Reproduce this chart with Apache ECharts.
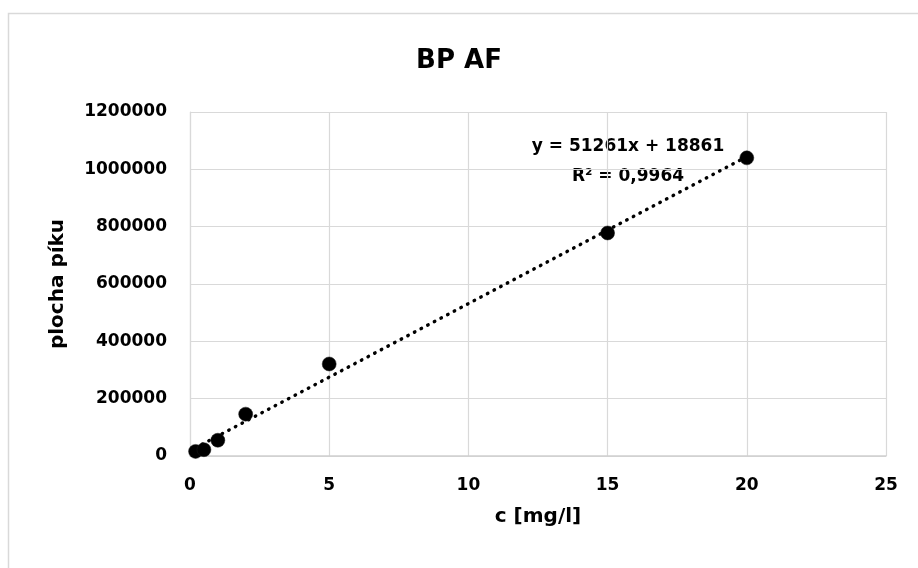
<!DOCTYPE html>
<html>
<head>
<meta charset="utf-8">
<script src="https://cdn.jsdelivr.net/npm/echarts@6/dist/echarts.min.js"></script>
<style>
  html, body { margin: 0; padding: 0; background: #fff; }
  #chart { width: 918px; height: 568px; }
</style>
</head>
<body>
<div id="chart"></div>
<script>
// Calibration measurements: concentration vs. peak area
const concentration = [0.2, 0.5, 1, 2, 5, 15, 20];
const peakArea = [16000, 22000, 55000, 146000, 321000, 778000, 1040000];

// Linear trendline as reported
const slope = 51261;
const intercept = 18861;
const rSquared = '0,9964';

const xTicks = [0, 5, 10, 15, 20, 25];
const yTicks = [0, 200000, 400000, 600000, 800000, 1000000, 1200000];

const FONT = 'DejaVu Sans';

const points = concentration.map((c, i) => [c, peakArea[i]]);
const xStart = concentration[0];
const xEnd = concentration[concentration.length - 1];
const trend = [
  [xStart, slope * xStart + intercept],
  [xEnd, slope * xEnd + intercept]
];

const chart = echarts.init(document.getElementById('chart'), null, { renderer: 'canvas' });

chart.setOption({
  backgroundColor: '#ffffff',
  animation: false,
  title: {
    text: 'BP AF',
    left: 'center',
    top: 43,
    textStyle: { fontFamily: FONT, fontWeight: 'bold', fontSize: 26, color: '#000' }
  },
  grid: { left: 190, right: 32, top: 112, bottom: 112 },
  xAxis: {
    type: 'value',
    min: xTicks[0],
    max: xTicks[xTicks.length - 1],
    interval: 5,
    name: 'c [mg/l]',
    nameLocation: 'middle',
    nameGap: 51,
    nameTextStyle: { fontFamily: FONT, fontWeight: 'bold', fontSize: 20, color: '#000' },
    axisLine: { show: true, lineStyle: { color: '#d0d0d0', width: 1.5 } },
    axisTick: { show: false },
    splitLine: { show: true, lineStyle: { color: '#d9d9d9', width: 1.2 } },
    axisLabel: {
      fontFamily: FONT, fontWeight: 'bold', fontSize: 17, color: '#000', margin: 21,
      formatter: v => String(v)
    }
  },
  yAxis: {
    type: 'value',
    min: yTicks[0],
    max: yTicks[yTicks.length - 1],
    interval: 200000,
    name: 'plocha píku',
    nameLocation: 'middle',
    nameGap: 122,
    nameRotate: 90,
    nameTextStyle: { fontFamily: FONT, fontWeight: 'bold', fontSize: 20, color: '#000' },
    axisLine: { show: true, lineStyle: { color: '#d9d9d9', width: 1.2 } },
    axisTick: { show: false },
    splitLine: { show: true, lineStyle: { color: '#d9d9d9', width: 1.2 } },
    axisLabel: {
      fontFamily: FONT, fontWeight: 'bold', fontSize: 17, color: '#000', margin: 23,
      formatter: v => String(v)
    }
  },
  series: [
    {
      name: 'trend',
      type: 'line',
      data: trend,
      symbol: 'none',
      z: 2,
      lineStyle: { color: '#000', width: 3.4, type: [0.5, 7], cap: 'round' }
    },
    {
      name: 'data',
      type: 'scatter',
      data: points,
      symbol: 'circle',
      symbolSize: 14,
      z: 3,
      itemStyle: { color: '#000', borderColor: '#1a1a1a', borderWidth: 0.5, opacity: 1 }
    }
  ],
  graphic: [
    {
      type: 'rect',
      silent: true,
      z: -10,
      shape: { x: 8.5, y: 13.5, width: 1000, height: 1000 },
      style: { fill: 'none', stroke: '#d9d9d9', lineWidth: 1.5 }
    },
    {
      type: 'text',
      x: 628,
      y: 147,
      style: {
        text: 'y = ' + slope + 'x + ' + intercept,
        fontFamily: FONT, fontWeight: 'bold', fontSize: 17, fill: '#000',
        align: 'center', verticalAlign: 'middle'
      }
    },
    {
      type: 'text',
      x: 628,
      y: 177,
      style: {
        text: 'R² = ' + rSquared,
        fontFamily: FONT, fontWeight: 'bold', fontSize: 17, fill: '#000',
        align: 'center', verticalAlign: 'middle'
      }
    }
  ]
});
</script>
</body>
</html>
